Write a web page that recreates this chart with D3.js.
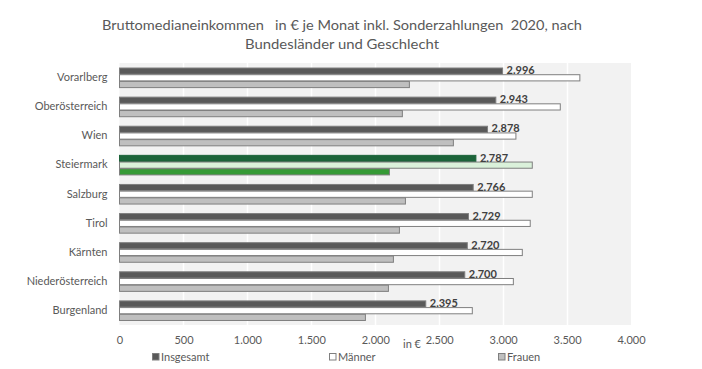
<!DOCTYPE html>
<html>
<head>
<meta charset="utf-8">
<script src="https://cdn.jsdelivr.net/npm/d3@7"></script>
<style>
  html, body { margin: 0; padding: 0; background: #fff; }
  svg { display: block; }
  text { font-family: Lato, "Open Sans", sans-serif; }
</style>
</head>
<body>
<script>
const categories = ["Vorarlberg", "Oberösterreich", "Wien", "Steiermark", "Salzburg", "Tirol", "Kärnten", "Niederösterreich", "Burgenland"];
const insgesamt = [2996, 2943, 2878, 2787, 2766, 2729, 2720, 2700, 2395];
const maenner   = [3600, 3447, 3100, 3228, 3228, 3212, 3150, 3080, 2759];
const frauen    = [2267, 2212, 2611, 2111, 2236, 2189, 2142, 2103, 1923];
const seriesNames = ["Insgesamt", "Männer", "Frauen"];
const tickValues = [0, 500, 1000, 1500, 2000, 2500, 3000, 3500, 4000];
const titleLines = ["Bruttomedianeinkommen   in € je Monat inkl. Sonderzahlungen  2020, nach", "Bundesländer und Geschlecht"];
const highlight = "Steiermark";

const W = 702, H = 369;
const plot = { left: 119.5, right: 631, top: 63, bottom: 325 };

const svg = d3.select("body").append("svg").attr("width", W).attr("height", H);

const fills = { Insgesamt: "#595959", "Männer": "#ffffff", Frauen: "#bfbfbf" };
const strokes = { Insgesamt: "#7f7f7f", "Männer": "#7f7f7f", Frauen: "#7f7f7f" };
const hiFills = { Insgesamt: "#1b6339", "Männer": "#daf1da", Frauen: "#359a35" };
const hiStrokes = { Insgesamt: "#1b6339", "Männer": "#7f7f7f", Frauen: "#7f7f7f" };

const x = d3.scaleLinear().domain([0, 4000]).range([plot.left, plot.right]);
const y = d3.scaleBand().domain(categories).range([plot.top, plot.bottom]).paddingInner(0.31).paddingOuter(0.155);
const ySub = d3.scaleBand().domain(seriesNames).range([0, y.bandwidth()]);

// plot background
svg.append("rect").attr("x", plot.left).attr("y", plot.top)
  .attr("width", plot.right - plot.left).attr("height", plot.bottom - plot.top)
  .attr("fill", "#f2f2f2");

// gridlines
svg.append("g").selectAll("line").data(tickValues.slice(1, -1)).join("line")
  .attr("x1", d => Math.round(x(d)) + 0.5).attr("x2", d => Math.round(x(d)) + 0.5)
  .attr("y1", plot.top).attr("y2", plot.bottom)
  .attr("stroke", "#ffffff").attr("stroke-width", 1.5);

// bars
const data = [];
categories.forEach((c, i) => {
  const vals = { Insgesamt: insgesamt[i], "Männer": maenner[i], Frauen: frauen[i] };
  seriesNames.forEach(s => data.push({ cat: c, s, v: vals[s] }));
});

svg.append("g").selectAll("rect").data(data).join("rect")
  .attr("x", x(0))
  .attr("y", d => y(d.cat) + ySub(d.s) + 0.5)
  .attr("width", d => x(d.v) - x(0))
  .attr("height", ySub.bandwidth() - 0.5)
  .attr("fill", d => d.cat === highlight ? hiFills[d.s] : fills[d.s])
  .attr("stroke", d => d.cat === highlight ? hiStrokes[d.s] : strokes[d.s])
  .attr("stroke-width", 1);

// value labels for Insgesamt
svg.append("g").selectAll("text").data(categories).join("text")
  .attr("x", (c, i) => x(insgesamt[i]) + 4)
  .attr("y", c => y(c) + ySub("Insgesamt") + ySub.bandwidth() / 2 + 0.5)
  .attr("dominant-baseline", "middle")
  .attr("font-size", 11).attr("font-weight", "bold").attr("fill", "#404040")
  .text((c, i) => d3.format(",")(insgesamt[i]).replace(/,/g, "."));

// category axis labels
const yAxis = d3.axisLeft(y).tickSize(0).tickPadding(12);
const yg = svg.append("g").attr("transform", `translate(${plot.left},0)`).call(yAxis);
yg.select(".domain").remove();
yg.selectAll("text").attr("font-size", 11).attr("fill", "#595959")
  .attr("font-family", "Lato, 'Open Sans', sans-serif").attr("dy", "0.32em");

// x axis labels
const xAxis = d3.axisBottom(x).tickValues(tickValues).tickSize(0).tickPadding(11)
  .tickFormat(d => d3.format(",")(d).replace(/,/g, "."));
const xg = svg.append("g").attr("transform", `translate(0,${plot.bottom})`).call(xAxis);
xg.select(".domain").remove();
xg.selectAll("text").attr("font-size", 11).attr("fill", "#595959")
  .attr("font-family", "Lato, 'Open Sans', sans-serif");

// axis title
svg.append("text").attr("x", 412).attr("y", 348).attr("text-anchor", "middle")
  .attr("font-size", 11).attr("fill", "#595959").text("in €");

// legend
const legendPos = [{ sx: 152, tx: 161 }, { sx: 329, tx: 338 }, { sx: 498, tx: 507 }];
const lg = svg.append("g");
seriesNames.forEach((s, i) => {
  lg.append("rect").attr("x", legendPos[i].sx + 0.5).attr("y", 353.5).attr("width", 6.5).attr("height", 6.5)
    .attr("fill", fills[s]).attr("stroke", strokes[s]);
  lg.append("text").attr("x", legendPos[i].tx).attr("y", 361).attr("font-size", 11)
    .attr("fill", "#595959").text(s);
});

// title
svg.append("g").selectAll("text").data(titleLines).join("text")
  .attr("x", 342).attr("y", (d, i) => 30 + i * 19)
  .attr("text-anchor", "middle").attr("font-size", 14).attr("fill", "#595959")
  .attr("textLength", (d, i) => i === 0 ? 480 : 194)
  .attr("lengthAdjust", "spacingAndGlyphs")
  .style("white-space", "pre")
  .text(d => d);
</script>
</body>
</html>
